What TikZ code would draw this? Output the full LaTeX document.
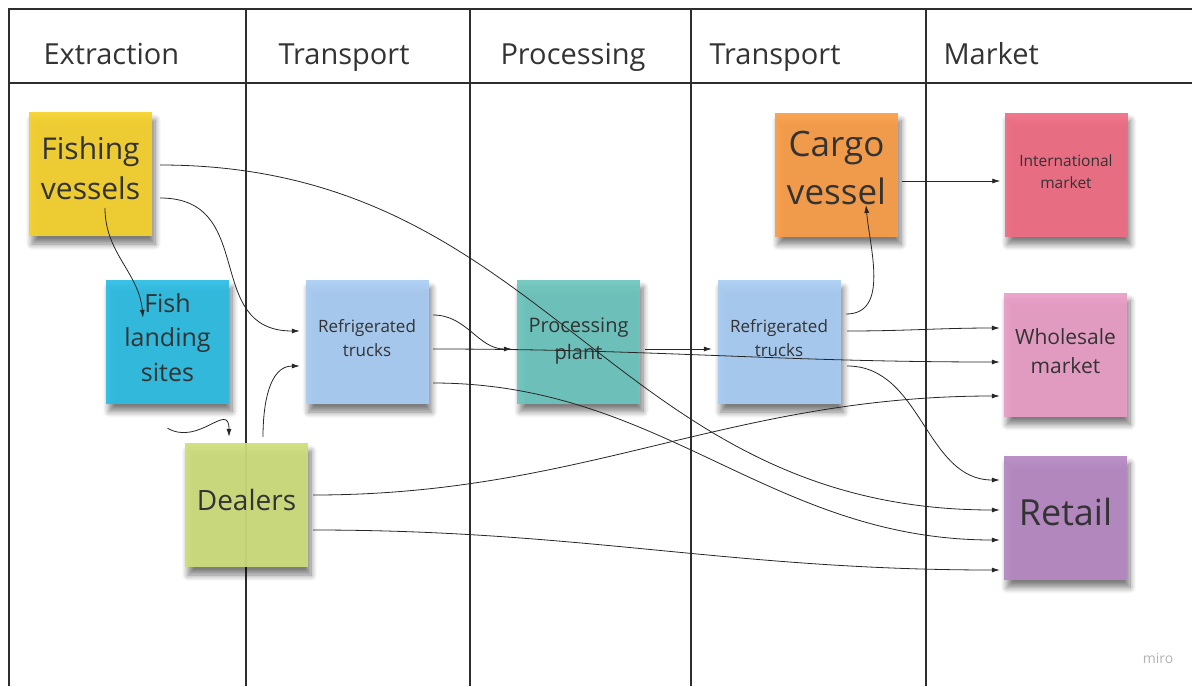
\documentclass[tikz,border=0pt]{standalone}
\usepackage{fontspec}
\setmainfont{Open Sans}
\usetikzlibrary{positioning, arrows.meta, shadows.blur}

\definecolor{inkgray}{HTML}{333333}
\definecolor{lanegray}{HTML}{2E2E2E}
\definecolor{fishyellow}{HTML}{F5D12C}
\definecolor{landingcyan}{HTML}{2CBCE2}
\definecolor{dealergreen}{HTML}{CEDD7C}
\definecolor{truckblue}{HTML}{A9CDF3}
\definecolor{plantteal}{HTML}{6CC6BD}
\definecolor{cargoorange}{HTML}{F99D47}
\definecolor{intlred}{HTML}{EF6C83}
\definecolor{wholepink}{HTML}{EA9DC6}
\definecolor{retailpurple}{HTML}{B588C3}

\begin{document}
\begin{tikzpicture}[x=1pt, y=1pt,
    lane/.style={draw=lanegray, line width=1.3pt},
    heading/.style={anchor=base west, text=inkgray, font=\fontsize{29}{34}\selectfont},
    sticky/.style={minimum width=123pt, minimum height=124pt, inner sep=0pt,
        align=center, text=inkgray, text depth=9pt, fill opacity=0.93, text opacity=1,
        blur shadow={shadow xshift=3pt, shadow yshift=-8pt,
            shadow blur radius=6pt, shadow opacity=55, shadow blur steps=10}},
    flow/.style={-{Latex[length=8pt, width=5pt]}, line width=0.8pt, color=black!85}]

   \useasboundingbox (0,0) rectangle (1192,-686);

   % swimlanes
   \draw[lane] (9,-686) -- (9,-9) -- (1192,-9);
   \draw[lane] (9,-83) -- (1192,-83);
   \draw[lane, line width=2.4pt] (246,-9) -- (246,-686);
   \draw[lane] (470,-9) -- (470,-686);
   \draw[lane] (691,-9) -- (691,-686);
   \draw[lane, line width=2.4pt] (926,-9) -- (926,-686);

   \node[heading] (hextract) at (40,-64) {Extraction};
   \node[heading] (htransA) at (275,-64) {Transport};
   \node[heading] (hprocess) at (497,-64) {Processing};
   \node[heading] (htransB) at (706,-64) {Transport};
   \node[heading] (hmarket) at (940,-64) {Market};

   % stickies
   \node[sticky, fill=fishyellow, font=\fontsize{30}{40}\selectfont, text depth=12pt] (fishing) at (90.5,-174) {Fishing\\vessels};
   \node[sticky, fill=landingcyan, font=\fontsize{25}{34.5}\selectfont] (landing) at (167.5,-341.5) {Fish\\landing\\sites};
   \node[sticky, fill=dealergreen, font=\fontsize{28}{34}\selectfont, text depth=10pt] (dealers) at (246.5,-505) {Dealers};
   \node[sticky, fill=truckblue, font=\fontsize{17}{24}\selectfont, text depth=8pt] (trucksA) at (367,-342) {Refrigerated\\trucks};
   \node[sticky, fill=plantteal, font=\fontsize{20}{27}\selectfont, text depth=5pt] (plant) at (578.5,-341.5) {Processing\\plant};
   \node[sticky, fill=truckblue, font=\fontsize{17}{24}\selectfont, text depth=8pt] (trucksB) at (779,-342) {Refrigerated\\trucks};
   \node[sticky, fill=cargoorange, font=\fontsize{35}{48}\selectfont, text depth=13pt] (cargo) at (836.5,-174.5) {Cargo\\vessel};
   \node[sticky, fill=intlred, font=\fontsize{15.5}{22}\selectfont, text depth=6pt] (intl) at (1066,-174.5) {International\\market};
   \node[sticky, fill=wholepink, font=\fontsize{21}{29}\selectfont, text depth=6pt] (wholesale) at (1065.5,-354.5) {Wholesale\\market};
   \node[sticky, fill=retailpurple, font=\fontsize{36}{40}\selectfont, text depth=12pt] (retail) at (1065.5,-517.5) {Retail};

   \node[text=black!30, font=\fontsize{14}{14}\selectfont] (miro) at (1158,-658) {miro};

   % flows
   \path[flow]
    ([shift={(8,9)}]fishing.east) edge[out=0, in=180, looseness=1.1] ([shift={(-4,7.5)}]retail.west)
    ([shift={(8,-24)}]fishing.east) edge[out=0, in=180, looseness=1.3] ([shift={(-5.5,11)}]trucksA.west)
    ([shift={(14.5,-34)}]fishing.center) edge[out=-90, in=95] ([shift={(-24.5,-38.5)}]landing.north)
    ([shift={(0,-24.5)}]landing.south) edge[out=-30, in=90, looseness=1.5] ([shift={(-17.5,6)}]dealers.north)
    ([shift={(16.5,6)}]dealers.north) edge[out=90, in=180] ([shift={(-5.5,-24)}]trucksA.west)
    ([shift={(5,10)}]dealers.east) edge[out=0, in=180] ([shift={(-4,-41.5)}]wholesale.west)
    ([shift={(5,-25)}]dealers.east) edge[out=0, in=180] ([shift={(-4,-52.5)}]retail.west);

   \path[flow]
    ([shift={(4.5,27)}]trucksA.east) edge[out=0, in=180] ([shift={(-5,-7.5)}]plant.west)
    ([shift={(4.5,-7)}]trucksA.east) edge[out=0, in=180] ([shift={(-4,-7.5)}]wholesale.west)
    ([shift={(4.5,-41)}]trucksA.east) edge[out=0, in=180] ([shift={(-4,-22.5)}]retail.west)
    ([shift={(5,-7.5)}]plant.east) edge ([shift={(-5.5,-7)}]trucksB.west)
    ([shift={(5.5,28)}]trucksB.east) edge[out=0, in=-85] ([shift={(29.5,-30.5)}]cargo.center)
    ([shift={(6.5,11)}]trucksB.east) edge[out=0, in=180] ([shift={(-4,26.5)}]wholesale.west)
    ([shift={(6.5,-24)}]trucksB.east) edge[out=0, in=180] ([shift={(-4,37.5)}]retail.west)
    ([shift={(4,-6.5)}]cargo.east) edge ([shift={(-4,-6.5)}]intl.west);
\end{tikzpicture}
\end{document}
